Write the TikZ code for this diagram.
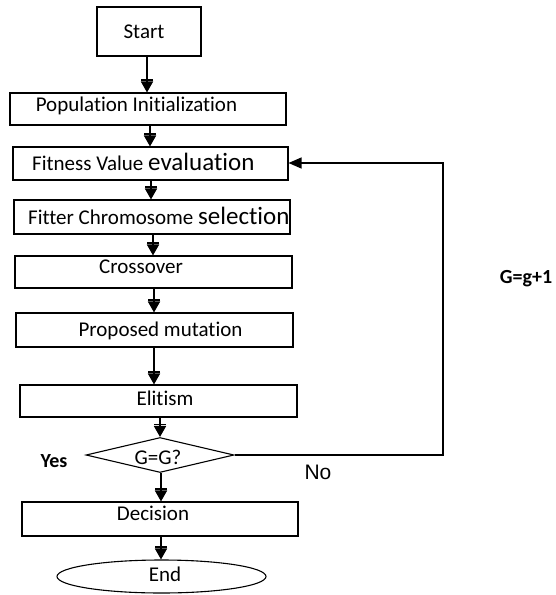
\documentclass[tikz,border=0pt]{standalone}
\usepackage{fontspec}
\setmainfont{Carlito}[Ligatures={NoCommon}]
\newfontfamily\arialf{Liberation Sans}
\usetikzlibrary{shapes.geometric,arrows.meta}
\begin{document}
\begin{tikzpicture}[x=1pt,y=-1pt,
  box/.style={draw,line width=1.1pt,rectangle,inner sep=0pt},
  txt/.style={inner sep=0pt,font=\fontsize{21}{23}\selectfont},
  flow/.style={line width=1.8pt,-{Bar[width=12pt,line width=1.6pt,sep=0.5pt]Triangle[width=12pt,length=11pt]}},
  back/.style={line width=1.2pt,-{Triangle[width=11pt,length=13pt]}},
  lbl/.style={inner sep=0pt,font=\fontsize{20}{22}\selectfont\bfseries}]
\useasboundingbox (0,0) rectangle (555,595);
% boxes
\node[box,minimum width=104pt,minimum height=49pt] (start) at (149,31.5) {};
\node[box,minimum width=276pt,minimum height=32pt] (pop) at (148,109) {};
\node[box,minimum width=275pt,minimum height=33pt] (fit) at (150.5,163.5) {};
\node[box,minimum width=276pt,minimum height=34pt] (sel) at (152,217) {};
\node[box,minimum width=277pt,minimum height=32pt] (cross) at (153.5,272) {};
\node[box,minimum width=277pt,minimum height=34pt] (mut) at (154.5,330) {};
\node[box,minimum width=277pt,minimum height=32pt] (elit) at (158.5,401) {};
\node[draw,line width=1.1pt,diamond,inner sep=0pt,minimum width=148pt,minimum height=35pt] (dec) at (160,455) {};
\node[box,minimum width=276pt,minimum height=34pt] (decision) at (160,519) {};
\node[draw,line width=1.1pt,ellipse,inner sep=0pt,minimum width=209pt,minimum height=33pt] (end) at (161.5,576.5) {};
% texts
\node[txt] (tstart) at (144,32) {Start};
\node[txt] (tpop) at (136.5,106) {Population Initialization};
\node[txt,anchor=base west] (tfit) at (32,170) {Fitness Value {\fontsize{25}{27}\selectfont evaluation}};
\node[txt,anchor=base west] (tsel) at (28,224) {Fitter Chromosome {\fontsize{25}{27}\selectfont selection}};
\node[txt] (tcross) at (141,267) {Crossover};
\node[txt] (tmut) at (160.5,331) {Proposed mutation};
\node[txt] (telit) at (165,398) {Elitism};
\node[txt] (tdec) at (158,457) {G=G?};
\node[txt] (tdecision) at (153,513) {Decision};
\node[txt] (tend) at (165,574) {End};
% flow arrows
\draw[flow] (start.south -| 147,0) -- (pop.north -| 147,0);
\draw[flow] (pop.south -| 150,0) -- (fit.north -| 150,0);
\draw[flow] (fit.south -| 151,0) -- (sel.north -| 151,0);
\draw[flow] (sel.south -| 153,0) -- (cross.north -| 153,0);
\draw[flow] (cross.south -| 154,0) -- (mut.north -| 154,0);
\draw[flow] (mut.south -| 154,0) -- (elit.north -| 154,0);
\draw[flow] (elit.south -| 160,0) -- (dec.north -| 160,0);
\draw[flow] (dec.south -| 161,0) -- (decision.north -| 161,0);
\draw[flow] (decision.south -| 161,0) -- (end.north -| 161,0);
% loop back
\coordinate (c1) at (443,455);
\coordinate (c2) at (443,163);
\draw[back] (dec.east) -- (c1) -- (c2) -- (fit.east |- c2);
% labels
\node[lbl] (yes) at (54,461) {Yes};
\node[inner sep=0pt,font=\arialf\fontsize{21}{23}\selectfont] (no) at (318,472) {No};
\node[lbl] (gg) at (526,279) {G=g+1};
\end{tikzpicture}
\end{document}
